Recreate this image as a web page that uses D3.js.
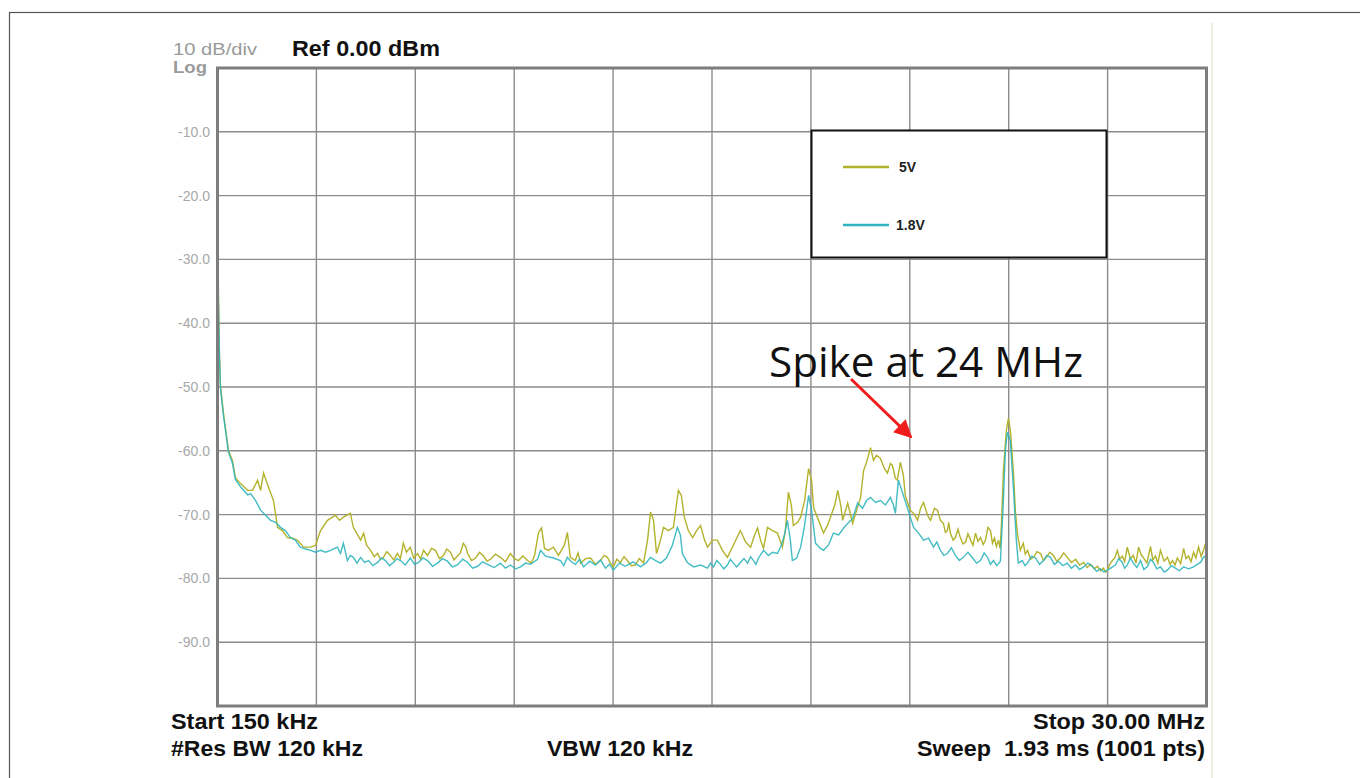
<!DOCTYPE html>
<html>
<head>
<meta charset="utf-8">
<script src="https://cdn.jsdelivr.net/npm/d3@7"></script>
<style>
  body { margin: 0; background: #fff; }
  svg { display: block; }
  text { white-space: pre; }
</style>
</head>
<body>
<svg id="chart" width="1360" height="778"></svg>
<script>
// spectrum analyzer traces, [freq MHz, level dBm]
const trace5V = [
  [0.15,-17.7],[0.18,-36.5],[0.21,-45.1],[0.24,-49.8],[0.33,-54.1],[0.42,-57.6],[0.48,-59.9],[0.60,-61.5],
  [0.69,-64.2],[0.84,-65.1],[1.06,-66.2],[1.21,-66.2],[1.36,-64.6],[1.45,-66.2],[1.54,-63.5],[1.69,-65.7],
  [1.84,-67.8],[1.90,-69.8],[1.96,-72.0],[2.11,-72.5],[2.26,-73.6],[2.41,-73.7],[2.56,-74.0],[2.75,-75.1],
  [2.96,-75.1],[3.11,-74.8],[3.26,-72.5],[3.47,-70.9],[3.71,-70.1],[3.83,-70.9],[3.95,-70.4],[4.16,-69.8],
  [4.25,-72.0],[4.35,-72.9],[4.47,-74.0],[4.56,-72.9],[4.65,-74.8],[4.77,-75.6],[4.88,-76.6],[4.98,-76.1],
  [5.07,-77.0],[5.16,-76.7],[5.26,-75.8],[5.37,-76.4],[5.47,-77.1],[5.58,-76.1],[5.67,-76.9],[5.76,-74.5],
  [5.85,-75.9],[5.97,-75.1],[6.07,-76.8],[6.19,-76.1],[6.28,-77.0],[6.37,-75.6],[6.49,-76.4],[6.61,-75.3],
  [6.73,-75.6],[6.85,-76.9],[6.97,-76.4],[7.07,-75.4],[7.18,-75.9],[7.29,-77.1],[7.39,-76.5],[7.48,-76.0],
  [7.57,-74.5],[7.64,-75.0],[7.70,-76.1],[7.82,-77.2],[7.94,-76.8],[8.06,-75.9],[8.18,-76.5],[8.28,-77.3],
  [8.39,-77.0],[8.54,-76.2],[8.69,-76.7],[8.84,-77.4],[8.99,-76.1],[9.11,-76.9],[9.23,-77.2],[9.37,-76.5],
  [9.51,-77.2],[9.62,-77.6],[9.72,-76.4],[9.84,-72.8],[9.93,-72.1],
  [10.02,-75.3],[10.14,-75.6],[10.29,-75.1],[10.44,-76.4],[10.62,-74.8],[10.71,-72.8],[10.80,-76.7],[10.95,-77.2],
  [11.03,-76.0],[11.11,-77.6],[11.26,-76.9],[11.41,-76.8],[11.56,-77.8],[11.71,-77.2],[11.82,-76.4],[11.92,-76.7],
  [12.01,-77.6],[12.10,-78.2],[12.20,-77.0],[12.31,-77.5],[12.42,-76.6],[12.52,-77.2],[12.64,-78.0],[12.76,-77.9],
  [12.88,-76.9],[13.01,-77.6],[13.13,-74.0],[13.22,-69.6],[13.31,-70.9],[13.40,-76.1],[13.52,-74.0],[13.61,-72.0],[13.76,-72.5],
  [13.91,-72.0],[14.00,-68.5],[14.06,-66.2],[14.15,-67.0],[14.24,-70.4],[14.36,-72.5],[14.49,-73.6],[14.61,-72.5],
  [14.73,-71.7],[14.85,-74.0],[14.94,-75.1],[15.09,-74.0],[15.24,-74.0],[15.39,-75.6],[15.54,-76.7],[15.72,-74.8],
  [15.93,-72.5],[16.09,-74.3],[16.24,-75.1],[16.36,-73.2],[16.45,-72.1],[16.54,-74.0],[16.63,-75.3],[16.75,-72.0],
  [16.90,-72.5],[17.05,-72.9],[17.20,-75.1],[17.29,-72.5],[17.38,-66.5],[17.47,-68.5],[17.53,-71.7],[17.66,-71.2],
  [17.75,-70.4],[17.87,-67.8],[17.99,-62.8],[18.08,-64.6],[18.14,-68.9],[18.29,-70.9],[18.44,-72.9],[18.56,-71.7],
  [18.65,-70.4],[18.78,-68.5],[18.87,-66.2],[18.96,-68.5],[19.02,-70.9],[19.17,-68.2],[19.26,-70.1],[19.32,-71.4],
  [19.44,-69.3],[19.56,-67.3],[19.65,-63.1],[19.74,-61.8],[19.86,-59.5],[19.95,-61.5],[20.04,-60.7],[20.16,-61.2],
  [20.28,-62.8],[20.37,-63.5],[20.46,-62.0],[20.52,-62.3],[20.61,-64.3],[20.67,-64.6],[20.76,-61.8],[20.85,-63.8],
  [20.91,-67.0],[21.00,-68.5],[21.06,-69.3],[21.19,-70.0],[21.28,-70.9],[21.37,-69.0],[21.46,-68.1],[21.58,-70.1],
  [21.67,-70.9],[21.79,-69.0],[21.88,-69.3],[21.97,-70.9],[22.06,-71.4],[22.12,-72.8],[22.18,-72.5],[22.22,-71.2],
  [22.27,-72.9],[22.35,-74.0],[22.42,-73.6],[22.50,-72.3],[22.57,-73.6],[22.65,-74.6],[22.73,-74.3],[22.80,-73.0],
  [22.88,-74.0],[22.95,-74.8],[23.03,-72.9],[23.10,-74.2],[23.18,-73.6],[23.26,-74.7],[23.33,-74.0],[23.40,-72.0],
  [23.48,-72.5],[23.54,-74.5],[23.60,-73.7],[23.66,-75.0],[23.72,-74.0],[23.77,-75.3],
  [23.81,-71.7],[23.87,-63.1],[23.96,-56.8],[24.02,-54.9],[24.08,-56.8],[24.17,-63.1],[24.23,-69.3],
  [24.29,-72.9],[24.38,-75.6],[24.47,-74.5],[24.53,-76.2],[24.60,-75.6],[24.69,-77.0],[24.78,-76.7],[24.88,-75.8],
  [24.99,-76.1],[25.08,-77.2],[25.17,-76.7],[25.27,-75.9],[25.38,-76.4],[25.48,-77.3],[25.59,-76.8],[25.69,-76.0],
  [25.80,-76.7],[25.92,-77.5],[26.05,-77.0],[26.17,-77.9],[26.29,-77.5],[26.40,-78.3],[26.50,-77.8],[26.61,-78.5],
  [26.71,-78.1],[26.80,-78.8],[26.89,-78.4],[26.95,-79.0],[27.01,-78.7],[27.08,-77.8],[27.16,-77.2],[27.23,-76.8],
  [27.31,-75.6],[27.38,-77.0],[27.46,-76.5],[27.53,-77.4],[27.61,-75.1],[27.70,-76.9],[27.79,-76.4],[27.87,-77.6],
  [27.95,-75.1],[28.02,-76.2],[28.10,-76.8],[28.20,-77.6],[28.31,-75.0],[28.38,-77.1],[28.46,-76.5],[28.53,-77.6],
  [28.61,-75.6],[28.72,-77.3],[28.82,-76.7],[28.90,-77.8],[28.97,-77.2],[29.05,-77.9],[29.12,-76.8],[29.22,-77.7],
  [29.31,-75.3],[29.38,-76.9],[29.46,-76.5],[29.53,-77.4],[29.61,-75.9],[29.68,-76.8],[29.76,-75.1],[29.84,-76.6],
  [29.91,-75.6],[30.00,-74.0]
];

const trace18V = [
  [0.15,-20.0],[0.18,-37.0],[0.21,-45.4],[0.24,-50.2],[0.33,-54.5],[0.42,-57.9],[0.48,-60.2],[0.60,-61.9],
  [0.69,-64.5],[0.84,-65.6],[1.06,-66.9],[1.15,-66.7],[1.30,-67.8],[1.45,-69.3],[1.60,-70.1],[1.75,-70.9],
  [1.90,-71.2],[2.05,-72.0],[2.20,-72.5],[2.35,-73.6],[2.50,-74.0],[2.65,-75.1],[2.81,-75.4],[2.96,-75.6],
  [3.11,-75.9],[3.26,-75.6],[3.41,-75.9],[3.56,-75.6],[3.77,-75.1],[3.86,-76.1],[3.95,-74.5],[4.07,-77.2],
  [4.16,-76.4],[4.25,-76.7],[4.36,-77.6],[4.47,-76.7],[4.59,-77.5],[4.71,-77.2],[4.84,-78.0],[4.98,-77.5],
  [5.10,-76.8],[5.22,-77.2],[5.34,-78.0],[5.46,-77.5],[5.57,-76.9],[5.67,-77.2],[5.82,-77.9],[5.97,-76.8],
  [6.10,-77.8],[6.22,-77.5],[6.35,-76.8],[6.49,-77.2],[6.64,-78.1],[6.79,-77.6],[6.94,-76.9],[7.09,-77.3],
  [7.24,-78.2],[7.39,-77.9],[7.55,-77.0],[7.70,-77.5],[7.85,-78.4],[8.00,-78.1],[8.15,-77.4],[8.30,-77.8],
  [8.50,-78.3],[8.69,-77.6],[8.84,-78.4],[8.99,-77.9],[9.15,-78.5],[9.30,-78.2],[9.45,-77.6],[9.60,-77.8],
  [9.81,-77.0],[9.90,-75.6],[10.05,-76.5],[10.29,-76.8],
  [10.50,-77.2],[10.60,-78.0],[10.71,-76.7],[10.83,-77.4],[10.95,-77.8],[11.08,-77.0],[11.20,-78.2],[11.38,-77.3],
  [11.56,-77.9],[11.71,-77.1],[11.86,-78.4],[11.98,-77.8],[12.10,-78.7],[12.28,-77.6],[12.46,-78.1],[12.69,-77.4],
  [12.92,-78.2],[13.10,-77.5],[13.22,-76.7],[13.37,-77.2],[13.52,-77.6],[13.70,-76.8],[13.88,-74.8],[14.03,-72.0],
  [14.12,-73.2],[14.18,-76.1],[14.33,-77.5],[14.52,-78.2],[14.73,-77.9],[14.94,-78.4],[15.03,-77.6],[15.12,-78.2],
  [15.22,-77.2],[15.33,-77.8],[15.43,-78.5],[15.54,-77.9],[15.63,-77.0],[15.72,-77.6],[15.82,-78.2],[15.93,-77.5],
  [16.04,-76.9],[16.15,-77.6],[16.24,-76.6],[16.33,-77.2],[16.40,-77.8],[16.48,-76.8],[16.63,-75.6],[16.78,-76.4],
  [16.90,-75.9],[17.05,-76.1],[17.17,-74.8],[17.26,-73.2],[17.35,-70.9],[17.44,-74.0],[17.50,-77.2],[17.63,-76.8],
  [17.75,-75.1],[17.87,-71.7],[17.99,-67.0],[18.08,-69.3],[18.20,-74.5],[18.35,-75.3],[18.44,-75.6],[18.59,-74.8],
  [18.74,-72.9],[18.90,-73.2],[19.05,-72.1],[19.17,-71.4],[19.32,-70.6],[19.47,-68.2],[19.62,-69.0],[19.74,-67.8],
  [19.86,-67.3],[20.01,-68.1],[20.16,-67.8],[20.31,-68.5],[20.46,-67.3],[20.55,-68.5],[20.61,-69.8],[20.70,-64.6],
  [20.82,-66.5],[20.97,-68.9],[21.16,-72.0],[21.31,-72.9],[21.46,-74.0],[21.61,-73.7],[21.76,-75.1],[21.86,-74.3],
  [21.97,-75.6],[22.07,-76.4],[22.18,-76.1],[22.30,-75.2],[22.42,-76.4],[22.54,-77.2],[22.66,-76.7],[22.80,-75.9],
  [22.94,-76.8],[23.06,-77.6],[23.18,-77.2],[23.29,-76.0],[23.39,-76.7],[23.48,-77.8],[23.57,-77.2],[23.67,-78.0],
  [23.78,-77.3],
  [23.87,-67.8],[23.93,-59.9],[23.99,-57.1],[24.08,-58.4],[24.17,-65.7],[24.26,-74.0],[24.32,-77.6],[24.44,-77.2],
  [24.52,-78.0],[24.60,-77.6],[24.72,-76.5],[24.84,-76.8],[24.96,-77.8],[25.08,-77.2],[25.18,-76.4],[25.29,-76.7],
  [25.41,-77.8],[25.53,-77.3],[25.66,-78.0],[25.80,-77.6],[25.92,-78.4],[26.05,-77.9],[26.17,-78.6],[26.29,-78.2],
  [26.42,-77.6],[26.56,-78.1],[26.68,-78.9],[26.80,-78.5],[26.90,-79.0],[27.01,-78.7],[27.13,-78.3],[27.25,-77.9],
  [27.35,-76.9],[27.46,-77.5],[27.53,-78.4],[27.61,-77.9],[27.70,-76.8],[27.79,-77.6],[27.90,-78.3],[28.01,-77.2],
  [28.11,-78.6],[28.22,-78.1],[28.31,-77.0],[28.40,-77.5],[28.50,-78.5],[28.61,-78.2],[28.72,-79.0],[28.82,-78.7],
  [28.94,-78.0],[29.06,-78.4],[29.18,-78.8],[29.31,-78.2],[29.46,-78.5],[29.61,-78.2],[29.72,-77.8],[29.82,-77.5],
  [29.91,-76.7],[30.00,-76.4]
];

const seriesNames = ["5V", "1.8V"];
const seriesColors = ["#b3b22c", "#2fb5bd"];
const yTickLabels = ["-10.0","-20.0","-30.0","-40.0","-50.0","-60.0","-70.0","-80.0","-90.0"];
const startMHz = 0.15, stopMHz = 30.0;
const refLevel = 0, dbPerDiv = 10, divs = 10;

const svg = d3.select("#chart");

// outer frame of the screenshot
svg.append("rect")
    .attr("x", 9.5).attr("y", 12.5)
    .attr("width", 1400).attr("height", 800)
    .attr("fill", "none").attr("stroke", "#555").attr("stroke-width", 1.2);
svg.append("line")
    .attr("x1", 1212).attr("x2", 1212).attr("y1", 23).attr("y2", 778)
    .attr("stroke", "#f1ede0").attr("stroke-width", 2);

const plotL = 217.5, plotR = 1206.5, plotT = 68, plotB = 706;
const x = d3.scaleLinear().domain([startMHz, stopMHz]).range([plotL, plotR]);
const y = d3.scaleLinear().domain([refLevel, refLevel - dbPerDiv * divs]).range([plotT, plotB]);

// grid
const grid = svg.append("g");
const xDiv = (stopMHz - startMHz) / divs;
grid.selectAll(".vgrid")
    .data(d3.range(1, divs))
    .enter().append("line")
    .attr("x1", d => x(startMHz + d * xDiv)).attr("x2", d => x(startMHz + d * xDiv))
    .attr("y1", plotT).attr("y2", plotB)
    .attr("stroke", "#8c8c8c").attr("stroke-width", 1.4);
grid.selectAll(".hgrid")
    .data(d3.range(1, divs))
    .enter().append("line")
    .attr("x1", plotL).attr("x2", plotR)
    .attr("y1", d => y(refLevel - d * dbPerDiv)).attr("y2", d => y(refLevel - d * dbPerDiv))
    .attr("stroke", "#8c8c8c").attr("stroke-width", 1.4);

// y tick labels
svg.selectAll(".ylab")
    .data(yTickLabels)
    .enter().append("text")
    .attr("x", 210)
    .attr("y", (d, i) => y(refLevel - (i + 1) * dbPerDiv) + 5)
    .attr("text-anchor", "end")
    .attr("font-family", "Liberation Sans, Arial, sans-serif")
    .attr("font-size", "14px")
    .attr("fill", "#a8a8a8")
    .text(d => d);

// traces
const line = d3.line().x(d => x(d[0])).y(d => y(d[1]));
svg.append("path")
    .datum(trace5V)
    .attr("d", line)
    .attr("fill", "none")
    .attr("stroke", seriesColors[0])
    .attr("stroke-width", 1.4);
svg.append("path")
    .datum(trace18V)
    .attr("d", line)
    .attr("fill", "none")
    .attr("stroke", seriesColors[1])
    .attr("stroke-width", 1.4)
    .attr("opacity", 0.9);

// plot border
svg.append("rect")
    .attr("x", plotL).attr("y", plotT)
    .attr("width", plotR - plotL).attr("height", plotB - plotT)
    .attr("fill", "none").attr("stroke", "#7d7d7d").attr("stroke-width", 3);

// header / footer texts
const font = "Liberation Sans, Arial, sans-serif";
function label(txt, px, py, size, weight, color, anchor, len) {
    const t = svg.append("text")
        .attr("x", px).attr("y", py)
        .attr("font-family", font)
        .attr("font-size", size + "px")
        .attr("font-weight", weight)
        .attr("fill", color)
        .attr("text-anchor", anchor || "start")
        .text(txt);
    if (len) t.attr("textLength", len).attr("lengthAdjust", "spacingAndGlyphs");
    return t;
}
label("10 dB/div", 173, 55, 17, "normal", "#9a9a9a", "start", 84);
label("Log", 173, 73, 17, "bold", "#9a9a9a", "start", 34);
label("Ref 0.00 dBm", 292, 56, 22, "bold", "#111", "start", 148);
label("Start 150 kHz", 171, 729, 22, "bold", "#111", "start", 147);
label("#Res BW 120 kHz", 171, 756, 22, "bold", "#111", "start", 192);
label("VBW 120 kHz", 547, 756, 22, "bold", "#111", "start", 146);
label("Stop 30.00 MHz", 1205, 729, 22, "bold", "#111", "end", 172);
label("Sweep  1.93 ms (1001 pts)", 1205, 756, 22, "bold", "#111", "end", 288);

// legend
const legend = svg.append("g");
legend.append("rect")
    .attr("x", 811.5).attr("y", 130.5).attr("width", 295).attr("height", 127)
    .attr("fill", "#fff").attr("stroke", "#111").attr("stroke-width", 2);
const legY = [167, 225];
legend.selectAll(".legline")
    .data(seriesNames)
    .enter().append("line")
    .attr("x1", 843).attr("x2", 889)
    .attr("y1", (d, i) => legY[i]).attr("y2", (d, i) => legY[i])
    .attr("stroke", (d, i) => seriesColors[i])
    .attr("stroke-width", 2.5);
legend.selectAll(".legtext")
    .data(seriesNames)
    .enter().append("text")
    .attr("x", (d, i) => i === 0 ? 899 : 896)
    .attr("y", (d, i) => legY[i] + 5)
    .attr("font-family", font)
    .attr("font-size", "14px")
    .attr("font-weight", "bold")
    .attr("fill", "#222")
    .text(d => d);

// annotation
svg.append("defs").append("marker")
    .attr("id", "arrow")
    .attr("viewBox", "0 0 10 10")
    .attr("refX", 9).attr("refY", 5)
    .attr("markerWidth", 7).attr("markerHeight", 6)
    .attr("markerUnits", "strokeWidth")
    .attr("orient", "auto")
    .append("path")
    .attr("d", "M0,0L10,5L0,10Z")
    .attr("fill", "#f01c1c");
svg.append("line")
    .attr("x1", 851).attr("y1", 379)
    .attr("x2", 911).attr("y2", 437)
    .attr("stroke", "#f01c1c").attr("stroke-width", 3)
    .attr("marker-end", "url(#arrow)");
svg.append("text")
    .attr("x", 769).attr("y", 377)
    .attr("font-family", "Open Sans, Noto Sans, sans-serif")
    .attr("font-size", "42px")
    .attr("fill", "#111")
    .attr("textLength", 314).attr("lengthAdjust", "spacingAndGlyphs")
    .text("Spike at 24 MHz");
</script>
</body>
</html>
